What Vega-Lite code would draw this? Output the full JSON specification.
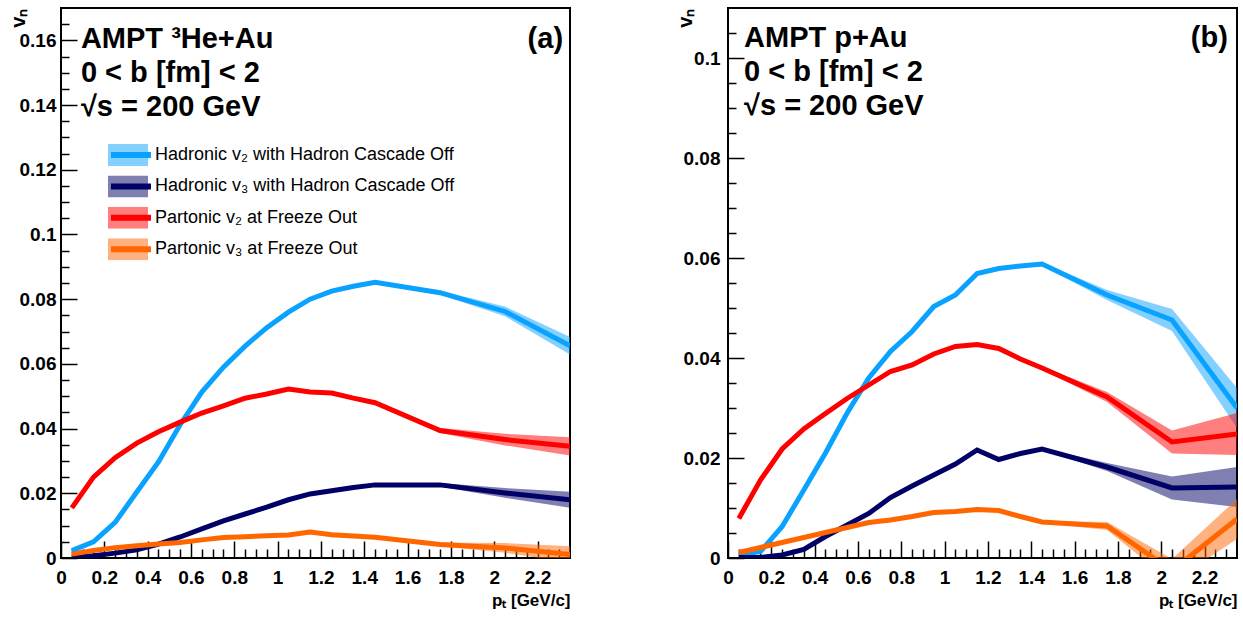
{
  "$schema": "https://vega.github.io/schema/vega-lite/v6.json",
  "background": "white",
  "padding": {"left": 7, "top": 7, "right": 5, "bottom": 5},
  "bounds": "flush",
  "spacing": 158,
  "config": {
    "font": "Liberation Sans",
    "view": {"stroke": "black", "strokeWidth": 2},
    "axis": {"grid": false, "domain": false, "tickColor": "black", "tickWidth": 1.5, "labelColor": "black", "titleColor": "black", "labelFont": "Liberation Sans", "titleFont": "Liberation Sans"},
    "text": {"font": "Liberation Sans", "color": "black"}
  },
  "datasets": {
    "heau": [
      {"s":"Hadronic v₂ with Hadron Cascade Off","x":0.05,"y":0.0023,"lo":0.0020,"hi":0.0026},
      {"s":"Hadronic v₂ with Hadron Cascade Off","x":0.15,"y":0.005,"lo":0.0047,"hi":0.0053},
      {"s":"Hadronic v₂ with Hadron Cascade Off","x":0.25,"y":0.011,"lo":0.0107,"hi":0.0113},
      {"s":"Hadronic v₂ with Hadron Cascade Off","x":0.35,"y":0.0204,"lo":0.0201,"hi":0.0207},
      {"s":"Hadronic v₂ with Hadron Cascade Off","x":0.45,"y":0.0297,"lo":0.0294,"hi":0.03},
      {"s":"Hadronic v₂ with Hadron Cascade Off","x":0.55,"y":0.0412,"lo":0.0409,"hi":0.0415},
      {"s":"Hadronic v₂ with Hadron Cascade Off","x":0.65,"y":0.0513,"lo":0.051,"hi":0.0516},
      {"s":"Hadronic v₂ with Hadron Cascade Off","x":0.75,"y":0.059,"lo":0.0587,"hi":0.0593},
      {"s":"Hadronic v₂ with Hadron Cascade Off","x":0.85,"y":0.0655,"lo":0.0652,"hi":0.0658},
      {"s":"Hadronic v₂ with Hadron Cascade Off","x":0.95,"y":0.0712,"lo":0.0709,"hi":0.0715},
      {"s":"Hadronic v₂ with Hadron Cascade Off","x":1.05,"y":0.076,"lo":0.0757,"hi":0.0763},
      {"s":"Hadronic v₂ with Hadron Cascade Off","x":1.15,"y":0.08,"lo":0.0797,"hi":0.0803},
      {"s":"Hadronic v₂ with Hadron Cascade Off","x":1.25,"y":0.0825,"lo":0.0822,"hi":0.0828},
      {"s":"Hadronic v₂ with Hadron Cascade Off","x":1.35,"y":0.084,"lo":0.0837,"hi":0.0843},
      {"s":"Hadronic v₂ with Hadron Cascade Off","x":1.45,"y":0.0852,"lo":0.0849,"hi":0.0855},
      {"s":"Hadronic v₂ with Hadron Cascade Off","x":1.75,"y":0.082,"lo":0.0814,"hi":0.0826},
      {"s":"Hadronic v₂ with Hadron Cascade Off","x":2.05,"y":0.0762,"lo":0.0747,"hi":0.0777},
      {"s":"Hadronic v₂ with Hadron Cascade Off","x":2.35,"y":0.0656,"lo":0.0629,"hi":0.0683},
      {"s":"Hadronic v₃ with Hadron Cascade Off","x":0.05,"y":0.0001,"lo":-0.0001,"hi":0.0003},
      {"s":"Hadronic v₃ with Hadron Cascade Off","x":0.15,"y":0.0007,"lo":0.0005,"hi":0.0009},
      {"s":"Hadronic v₃ with Hadron Cascade Off","x":0.25,"y":0.0015,"lo":0.0013,"hi":0.0017},
      {"s":"Hadronic v₃ with Hadron Cascade Off","x":0.35,"y":0.0025,"lo":0.0023,"hi":0.0027},
      {"s":"Hadronic v₃ with Hadron Cascade Off","x":0.45,"y":0.0043,"lo":0.0041,"hi":0.0045},
      {"s":"Hadronic v₃ with Hadron Cascade Off","x":0.55,"y":0.0065,"lo":0.0063,"hi":0.0067},
      {"s":"Hadronic v₃ with Hadron Cascade Off","x":0.65,"y":0.009,"lo":0.0088,"hi":0.0092},
      {"s":"Hadronic v₃ with Hadron Cascade Off","x":0.75,"y":0.0115,"lo":0.0113,"hi":0.0117},
      {"s":"Hadronic v₃ with Hadron Cascade Off","x":0.85,"y":0.0136,"lo":0.0134,"hi":0.0138},
      {"s":"Hadronic v₃ with Hadron Cascade Off","x":0.95,"y":0.0157,"lo":0.0155,"hi":0.0159},
      {"s":"Hadronic v₃ with Hadron Cascade Off","x":1.05,"y":0.018,"lo":0.0178,"hi":0.0182},
      {"s":"Hadronic v₃ with Hadron Cascade Off","x":1.15,"y":0.0198,"lo":0.0196,"hi":0.02},
      {"s":"Hadronic v₃ with Hadron Cascade Off","x":1.25,"y":0.0208,"lo":0.0206,"hi":0.021},
      {"s":"Hadronic v₃ with Hadron Cascade Off","x":1.35,"y":0.0218,"lo":0.0216,"hi":0.022},
      {"s":"Hadronic v₃ with Hadron Cascade Off","x":1.45,"y":0.0226,"lo":0.0224,"hi":0.0228},
      {"s":"Hadronic v₃ with Hadron Cascade Off","x":1.75,"y":0.0226,"lo":0.022,"hi":0.0232},
      {"s":"Hadronic v₃ with Hadron Cascade Off","x":2.05,"y":0.0201,"lo":0.0186,"hi":0.0216},
      {"s":"Hadronic v₃ with Hadron Cascade Off","x":2.35,"y":0.018,"lo":0.0155,"hi":0.0205},
      {"s":"Partonic v₂ at Freeze Out","x":0.05,"y":0.0155,"lo":0.0152,"hi":0.0158},
      {"s":"Partonic v₂ at Freeze Out","x":0.15,"y":0.025,"lo":0.0247,"hi":0.0253},
      {"s":"Partonic v₂ at Freeze Out","x":0.25,"y":0.031,"lo":0.0307,"hi":0.0313},
      {"s":"Partonic v₂ at Freeze Out","x":0.35,"y":0.0355,"lo":0.0352,"hi":0.0358},
      {"s":"Partonic v₂ at Freeze Out","x":0.45,"y":0.039,"lo":0.0387,"hi":0.0393},
      {"s":"Partonic v₂ at Freeze Out","x":0.55,"y":0.042,"lo":0.0417,"hi":0.0423},
      {"s":"Partonic v₂ at Freeze Out","x":0.65,"y":0.0448,"lo":0.0445,"hi":0.0451},
      {"s":"Partonic v₂ at Freeze Out","x":0.75,"y":0.047,"lo":0.0467,"hi":0.0473},
      {"s":"Partonic v₂ at Freeze Out","x":0.85,"y":0.0494,"lo":0.0491,"hi":0.0497},
      {"s":"Partonic v₂ at Freeze Out","x":0.95,"y":0.0507,"lo":0.0504,"hi":0.051},
      {"s":"Partonic v₂ at Freeze Out","x":1.05,"y":0.0522,"lo":0.0519,"hi":0.0525},
      {"s":"Partonic v₂ at Freeze Out","x":1.15,"y":0.0513,"lo":0.051,"hi":0.0516},
      {"s":"Partonic v₂ at Freeze Out","x":1.25,"y":0.051,"lo":0.0507,"hi":0.0513},
      {"s":"Partonic v₂ at Freeze Out","x":1.35,"y":0.0494,"lo":0.0491,"hi":0.0497},
      {"s":"Partonic v₂ at Freeze Out","x":1.45,"y":0.048,"lo":0.0477,"hi":0.0483},
      {"s":"Partonic v₂ at Freeze Out","x":1.75,"y":0.0394,"lo":0.0386,"hi":0.0402},
      {"s":"Partonic v₂ at Freeze Out","x":2.05,"y":0.0366,"lo":0.0348,"hi":0.0384},
      {"s":"Partonic v₂ at Freeze Out","x":2.35,"y":0.0345,"lo":0.0317,"hi":0.0373},
      {"s":"Partonic v₃ at Freeze Out","x":0.05,"y":0.0012,"lo":0.001,"hi":0.0014},
      {"s":"Partonic v₃ at Freeze Out","x":0.15,"y":0.0023,"lo":0.0021,"hi":0.0025},
      {"s":"Partonic v₃ at Freeze Out","x":0.25,"y":0.0032,"lo":0.003,"hi":0.0034},
      {"s":"Partonic v₃ at Freeze Out","x":0.35,"y":0.0038,"lo":0.0036,"hi":0.004},
      {"s":"Partonic v₃ at Freeze Out","x":0.45,"y":0.0043,"lo":0.0041,"hi":0.0045},
      {"s":"Partonic v₃ at Freeze Out","x":0.55,"y":0.0048,"lo":0.0046,"hi":0.005},
      {"s":"Partonic v₃ at Freeze Out","x":0.65,"y":0.0056,"lo":0.0054,"hi":0.0058},
      {"s":"Partonic v₃ at Freeze Out","x":0.75,"y":0.0063,"lo":0.0061,"hi":0.0065},
      {"s":"Partonic v₃ at Freeze Out","x":0.85,"y":0.0066,"lo":0.0064,"hi":0.0068},
      {"s":"Partonic v₃ at Freeze Out","x":0.95,"y":0.0069,"lo":0.0067,"hi":0.0071},
      {"s":"Partonic v₃ at Freeze Out","x":1.05,"y":0.0071,"lo":0.0069,"hi":0.0073},
      {"s":"Partonic v₃ at Freeze Out","x":1.15,"y":0.008,"lo":0.0078,"hi":0.0082},
      {"s":"Partonic v₃ at Freeze Out","x":1.25,"y":0.0072,"lo":0.007,"hi":0.0074},
      {"s":"Partonic v₃ at Freeze Out","x":1.35,"y":0.0068,"lo":0.0066,"hi":0.007},
      {"s":"Partonic v₃ at Freeze Out","x":1.45,"y":0.0064,"lo":0.0062,"hi":0.0066},
      {"s":"Partonic v₃ at Freeze Out","x":1.75,"y":0.0042,"lo":0.0036,"hi":0.0048},
      {"s":"Partonic v₃ at Freeze Out","x":2.05,"y":0.0031,"lo":0.0016,"hi":0.0046},
      {"s":"Partonic v₃ at Freeze Out","x":2.35,"y":0.0011,"lo":-0.0014,"hi":0.0036}
    ],
    "pau": [
      {"s":"Hadronic v₂ with Hadron Cascade Off","x":0.05,"y":0.0006,"lo":0.0003,"hi":0.0009},
      {"s":"Hadronic v₂ with Hadron Cascade Off","x":0.15,"y":0.0013,"lo":0.001,"hi":0.0016},
      {"s":"Hadronic v₂ with Hadron Cascade Off","x":0.25,"y":0.0063,"lo":0.006,"hi":0.0066},
      {"s":"Hadronic v₂ with Hadron Cascade Off","x":0.35,"y":0.0136,"lo":0.0133,"hi":0.0139},
      {"s":"Hadronic v₂ with Hadron Cascade Off","x":0.45,"y":0.021,"lo":0.0207,"hi":0.0213},
      {"s":"Hadronic v₂ with Hadron Cascade Off","x":0.55,"y":0.029,"lo":0.0287,"hi":0.0293},
      {"s":"Hadronic v₂ with Hadron Cascade Off","x":0.65,"y":0.036,"lo":0.0357,"hi":0.0363},
      {"s":"Hadronic v₂ with Hadron Cascade Off","x":0.75,"y":0.0413,"lo":0.041,"hi":0.0416},
      {"s":"Hadronic v₂ with Hadron Cascade Off","x":0.85,"y":0.0453,"lo":0.045,"hi":0.0456},
      {"s":"Hadronic v₂ with Hadron Cascade Off","x":0.95,"y":0.0503,"lo":0.05,"hi":0.0506},
      {"s":"Hadronic v₂ with Hadron Cascade Off","x":1.05,"y":0.0526,"lo":0.0523,"hi":0.0529},
      {"s":"Hadronic v₂ with Hadron Cascade Off","x":1.15,"y":0.0569,"lo":0.0566,"hi":0.0572},
      {"s":"Hadronic v₂ with Hadron Cascade Off","x":1.25,"y":0.0579,"lo":0.0576,"hi":0.0582},
      {"s":"Hadronic v₂ with Hadron Cascade Off","x":1.35,"y":0.0584,"lo":0.0581,"hi":0.0587},
      {"s":"Hadronic v₂ with Hadron Cascade Off","x":1.45,"y":0.0588,"lo":0.0585,"hi":0.0591},
      {"s":"Hadronic v₂ with Hadron Cascade Off","x":1.75,"y":0.0526,"lo":0.0516,"hi":0.0536},
      {"s":"Hadronic v₂ with Hadron Cascade Off","x":2.05,"y":0.0476,"lo":0.0454,"hi":0.0498},
      {"s":"Hadronic v₂ with Hadron Cascade Off","x":2.35,"y":0.03,"lo":0.026,"hi":0.034},
      {"s":"Hadronic v₃ with Hadron Cascade Off","x":0.05,"y":0.0001,"lo":-0.0001,"hi":0.0003},
      {"s":"Hadronic v₃ with Hadron Cascade Off","x":0.15,"y":0.0001,"lo":-0.0001,"hi":0.0003},
      {"s":"Hadronic v₃ with Hadron Cascade Off","x":0.25,"y":0.0006,"lo":0.0004,"hi":0.0008},
      {"s":"Hadronic v₃ with Hadron Cascade Off","x":0.35,"y":0.0017,"lo":0.0015,"hi":0.0019},
      {"s":"Hadronic v₃ with Hadron Cascade Off","x":0.45,"y":0.0043,"lo":0.0041,"hi":0.0045},
      {"s":"Hadronic v₃ with Hadron Cascade Off","x":0.55,"y":0.0066,"lo":0.0064,"hi":0.0068},
      {"s":"Hadronic v₃ with Hadron Cascade Off","x":0.65,"y":0.0089,"lo":0.0087,"hi":0.0091},
      {"s":"Hadronic v₃ with Hadron Cascade Off","x":0.75,"y":0.0121,"lo":0.0119,"hi":0.0123},
      {"s":"Hadronic v₃ with Hadron Cascade Off","x":0.85,"y":0.0144,"lo":0.0142,"hi":0.0146},
      {"s":"Hadronic v₃ with Hadron Cascade Off","x":0.95,"y":0.0166,"lo":0.0164,"hi":0.0168},
      {"s":"Hadronic v₃ with Hadron Cascade Off","x":1.05,"y":0.0188,"lo":0.0186,"hi":0.019},
      {"s":"Hadronic v₃ with Hadron Cascade Off","x":1.15,"y":0.0216,"lo":0.0214,"hi":0.0218},
      {"s":"Hadronic v₃ with Hadron Cascade Off","x":1.25,"y":0.0197,"lo":0.0195,"hi":0.0199},
      {"s":"Hadronic v₃ with Hadron Cascade Off","x":1.35,"y":0.0209,"lo":0.0207,"hi":0.0211},
      {"s":"Hadronic v₃ with Hadron Cascade Off","x":1.45,"y":0.0218,"lo":0.0216,"hi":0.022},
      {"s":"Hadronic v₃ with Hadron Cascade Off","x":1.75,"y":0.0182,"lo":0.0174,"hi":0.019},
      {"s":"Hadronic v₃ with Hadron Cascade Off","x":2.05,"y":0.014,"lo":0.0117,"hi":0.0163},
      {"s":"Hadronic v₃ with Hadron Cascade Off","x":2.35,"y":0.0142,"lo":0.0102,"hi":0.0182},
      {"s":"Partonic v₂ at Freeze Out","x":0.05,"y":0.0079,"lo":0.0076,"hi":0.0082},
      {"s":"Partonic v₂ at Freeze Out","x":0.15,"y":0.0156,"lo":0.0153,"hi":0.0159},
      {"s":"Partonic v₂ at Freeze Out","x":0.25,"y":0.0218,"lo":0.0215,"hi":0.0221},
      {"s":"Partonic v₂ at Freeze Out","x":0.35,"y":0.0258,"lo":0.0255,"hi":0.0261},
      {"s":"Partonic v₂ at Freeze Out","x":0.45,"y":0.0289,"lo":0.0286,"hi":0.0292},
      {"s":"Partonic v₂ at Freeze Out","x":0.55,"y":0.0319,"lo":0.0316,"hi":0.0322},
      {"s":"Partonic v₂ at Freeze Out","x":0.65,"y":0.0346,"lo":0.0343,"hi":0.0349},
      {"s":"Partonic v₂ at Freeze Out","x":0.75,"y":0.0373,"lo":0.037,"hi":0.0376},
      {"s":"Partonic v₂ at Freeze Out","x":0.85,"y":0.0386,"lo":0.0383,"hi":0.0389},
      {"s":"Partonic v₂ at Freeze Out","x":0.95,"y":0.0408,"lo":0.0405,"hi":0.0411},
      {"s":"Partonic v₂ at Freeze Out","x":1.05,"y":0.0423,"lo":0.042,"hi":0.0426},
      {"s":"Partonic v₂ at Freeze Out","x":1.15,"y":0.0427,"lo":0.0424,"hi":0.043},
      {"s":"Partonic v₂ at Freeze Out","x":1.25,"y":0.0419,"lo":0.0416,"hi":0.0422},
      {"s":"Partonic v₂ at Freeze Out","x":1.35,"y":0.0398,"lo":0.0395,"hi":0.0401},
      {"s":"Partonic v₂ at Freeze Out","x":1.45,"y":0.038,"lo":0.0377,"hi":0.0383},
      {"s":"Partonic v₂ at Freeze Out","x":1.75,"y":0.0322,"lo":0.0312,"hi":0.0332},
      {"s":"Partonic v₂ at Freeze Out","x":2.05,"y":0.0232,"lo":0.0209,"hi":0.0255},
      {"s":"Partonic v₂ at Freeze Out","x":2.35,"y":0.0248,"lo":0.0206,"hi":0.029},
      {"s":"Partonic v₃ at Freeze Out","x":0.05,"y":0.0011,"lo":0.0009,"hi":0.0013},
      {"s":"Partonic v₃ at Freeze Out","x":0.15,"y":0.0021,"lo":0.0019,"hi":0.0023},
      {"s":"Partonic v₃ at Freeze Out","x":0.25,"y":0.0031,"lo":0.0029,"hi":0.0033},
      {"s":"Partonic v₃ at Freeze Out","x":0.35,"y":0.0041,"lo":0.0039,"hi":0.0043},
      {"s":"Partonic v₃ at Freeze Out","x":0.45,"y":0.0051,"lo":0.0049,"hi":0.0053},
      {"s":"Partonic v₃ at Freeze Out","x":0.55,"y":0.0061,"lo":0.0059,"hi":0.0063},
      {"s":"Partonic v₃ at Freeze Out","x":0.65,"y":0.0071,"lo":0.0069,"hi":0.0073},
      {"s":"Partonic v₃ at Freeze Out","x":0.75,"y":0.0076,"lo":0.0074,"hi":0.0078},
      {"s":"Partonic v₃ at Freeze Out","x":0.85,"y":0.0083,"lo":0.0081,"hi":0.0085},
      {"s":"Partonic v₃ at Freeze Out","x":0.95,"y":0.0091,"lo":0.0089,"hi":0.0093},
      {"s":"Partonic v₃ at Freeze Out","x":1.05,"y":0.0093,"lo":0.0091,"hi":0.0095},
      {"s":"Partonic v₃ at Freeze Out","x":1.15,"y":0.0097,"lo":0.0095,"hi":0.0099},
      {"s":"Partonic v₃ at Freeze Out","x":1.25,"y":0.0095,"lo":0.0093,"hi":0.0097},
      {"s":"Partonic v₃ at Freeze Out","x":1.35,"y":0.0083,"lo":0.0081,"hi":0.0085},
      {"s":"Partonic v₃ at Freeze Out","x":1.45,"y":0.0072,"lo":0.007,"hi":0.0074},
      {"s":"Partonic v₃ at Freeze Out","x":1.75,"y":0.0064,"lo":0.0056,"hi":0.0072},
      {"s":"Partonic v₃ at Freeze Out","x":2.05,"y":-0.0025,"lo":-0.0048,"hi":-0.0002},
      {"s":"Partonic v₃ at Freeze Out","x":2.35,"y":0.0078,"lo":0.0038,"hi":0.0118}
    ]
  },
  "resolve": {"scale": {"x": "independent", "y": "independent", "fill": "independent", "stroke": "independent"}, "legend": {"fill": "independent", "stroke": "independent"}},
  "hconcat": [
    {
      "width": 509,
      "height": 550,
      "data": {"name": "heau"},
      "resolve": {"axis": {"x": "independent", "y": "independent"}},
      "layer": [
        {
          "mark": {"type": "area", "clip": true, "fillOpacity": 0.5},
          "encoding": {
            "x": {"field": "x", "type": "quantitative", "scale": {"domain": [0, 2.35], "nice": false, "zero": false},
              "axis": {"orient": "bottom", "offset": -17, "tickSize": 17, "values": [0,0.2,0.4,0.6,0.8,1,1.2,1.4,1.6,1.8,2,2.2], "format": "~g", "labelPadding": 10, "labelFontSize": 19, "labelFontWeight": "bold", "labelFlush": false, "labelOverlap": false, "title": "pₜ [GeV/c]", "titleFontSize": 17, "titleFontWeight": "bold", "titleAnchor": "end", "titleAlign": "right", "titleBaseline": "alphabetic", "titleY": 64}},
            "y": {"field": "lo", "type": "quantitative", "scale": {"domain": [0, 0.17], "nice": false, "zero": false},
              "axis": {"orient": "left", "offset": -16, "tickSize": 16, "values": [0,0.02,0.04,0.06,0.08,0.1,0.12,0.14,0.16], "format": "~g", "labelPadding": 5, "labelFontSize": 19, "labelFontWeight": "bold", "labelFlush": false, "labelOverlap": false, "title": "vₙ", "titleFontSize": 20, "titleFontWeight": "bold", "titleAngle": 270, "titleAlign": "right", "titleBaseline": "middle", "titleX": -59, "titleY": 0}},
            "y2": {"field": "hi"},
            "fill": {"field": "s", "type": "nominal", "scale": {"range": ["#09A2FF", "#000066", "#FF0000", "#FF6600"]},
              "legend": {"orient": "none", "legendX": 47, "legendY": 136, "title": null, "padding": 0, "symbolType": "M-1,-0.55H1V0.55H-1Z", "symbolSize": 1600, "symbolOpacity": 0.5, "symbolStrokeWidth": 0, "labelExpr": "''", "labelFontSize": 18, "labelOffset": 1, "labelLimit": 0, "rowPadding": 9.4, "clipHeight": 22}}
          }
        },
        {
          "mark": {"type": "line", "clip": true, "strokeWidth": 5},
          "encoding": {
            "x": {"field": "x", "type": "quantitative",
              "axis": {"orient": "bottom", "offset": -9, "tickSize": 9, "values": [0.05,0.1,0.15,0.25,0.3,0.35,0.45,0.5,0.55,0.65,0.7,0.75,0.85,0.9,0.95,1.05,1.1,1.15,1.25,1.3,1.35,1.45,1.5,1.55,1.65,1.7,1.75,1.85,1.9,1.95,2.05,2.1,2.15,2.25,2.3], "labels": false, "title": null}},
            "y": {"field": "y", "type": "quantitative",
              "axis": {"orient": "left", "offset": -8, "tickSize": 8, "values": [0.005,0.01,0.015,0.025,0.03,0.035,0.045,0.05,0.055,0.065,0.07,0.075,0.085,0.09,0.095,0.105,0.11,0.115,0.125,0.13,0.135,0.145,0.15,0.155,0.165], "labels": false, "title": null}},
            "stroke": {"field": "s", "type": "nominal", "scale": {"domain": ["Hadronic v₂ with Hadron Cascade Off", "Hadronic v₃ with Hadron Cascade Off", "Partonic v₂ at Freeze Out", "Partonic v₃ at Freeze Out"], "range": ["#09A2FF", "#000066", "#FF0000", "#FF6600"]},
              "legend": {"orient": "none", "legendX": 47, "legendY": 136, "title": null, "padding": 0, "symbolType": "M-1,0H1", "symbolSize": 1600, "symbolStrokeWidth": 6, "labelFontSize": 18, "labelColor": "black", "labelOffset": 1, "labelLimit": 0, "rowPadding": 9.4, "clipHeight": 22}}
          }
        },
        {
          "data": {"values": [{}]},
          "mark": {"type": "text", "text": ["AMPT  ³He+Au", "0 < b [fm] < 2", "√s = 200 GeV"], "align": "left", "baseline": "alphabetic", "fontSize": 29, "fontWeight": "bold", "lineHeight": 34},
          "encoding": {"x": {"datum": 0.092, "type": "quantitative", "axis": null}, "y": {"datum": 0.1575, "type": "quantitative", "axis": null}}
        },
        {
          "data": {"values": [{}]},
          "mark": {"type": "text", "text": "(a)", "align": "right", "baseline": "alphabetic", "fontSize": 29, "fontWeight": "bold"},
          "encoding": {"x": {"datum": 2.318, "type": "quantitative", "axis": null}, "y": {"datum": 0.1575, "type": "quantitative", "axis": null}}
        }
      ]
    },
    {
      "width": 509,
      "height": 550,
      "data": {"name": "pau"},
      "resolve": {"axis": {"x": "independent", "y": "independent"}},
      "layer": [
        {
          "mark": {"type": "area", "clip": true, "fillOpacity": 0.5},
          "encoding": {
            "x": {"field": "x", "type": "quantitative", "scale": {"domain": [0, 2.35], "nice": false, "zero": false},
              "axis": {"orient": "bottom", "offset": -17, "tickSize": 17, "values": [0,0.2,0.4,0.6,0.8,1,1.2,1.4,1.6,1.8,2,2.2], "format": "~g", "labelPadding": 10, "labelFontSize": 19, "labelFontWeight": "bold", "labelFlush": false, "labelOverlap": false, "title": "pₜ [GeV/c]", "titleFontSize": 17, "titleFontWeight": "bold", "titleAnchor": "end", "titleAlign": "right", "titleBaseline": "alphabetic", "titleY": 64}},
            "y": {"field": "lo", "type": "quantitative", "scale": {"domain": [0, 0.11], "nice": false, "zero": false},
              "axis": {"orient": "left", "offset": -16, "tickSize": 16, "values": [0,0.02,0.04,0.06,0.08,0.1], "format": "~g", "labelPadding": 8, "labelFontSize": 19, "labelFontWeight": "bold", "labelFlush": false, "labelOverlap": false, "title": "vₙ", "titleFontSize": 20, "titleFontWeight": "bold", "titleAngle": 270, "titleAlign": "right", "titleBaseline": "middle", "titleX": -59, "titleY": 0}},
            "y2": {"field": "hi"},
            "fill": {"field": "s", "type": "nominal", "scale": {"range": ["#09A2FF", "#000066", "#FF0000", "#FF6600"]}, "legend": null}
          }
        },
        {
          "mark": {"type": "line", "clip": true, "strokeWidth": 5},
          "encoding": {
            "x": {"field": "x", "type": "quantitative",
              "axis": {"orient": "bottom", "offset": -9, "tickSize": 9, "values": [0.05,0.1,0.15,0.25,0.3,0.35,0.45,0.5,0.55,0.65,0.7,0.75,0.85,0.9,0.95,1.05,1.1,1.15,1.25,1.3,1.35,1.45,1.5,1.55,1.65,1.7,1.75,1.85,1.9,1.95,2.05,2.1,2.15,2.25,2.3], "labels": false, "title": null}},
            "y": {"field": "y", "type": "quantitative",
              "axis": {"orient": "left", "offset": -8, "tickSize": 8, "values": [0.005,0.01,0.015,0.025,0.03,0.035,0.045,0.05,0.055,0.065,0.07,0.075,0.085,0.09,0.095,0.105], "labels": false, "title": null}},
            "stroke": {"field": "s", "type": "nominal", "scale": {"domain": ["Hadronic v₂ with Hadron Cascade Off", "Hadronic v₃ with Hadron Cascade Off", "Partonic v₂ at Freeze Out", "Partonic v₃ at Freeze Out"], "range": ["#09A2FF", "#000066", "#FF0000", "#FF6600"]}, "legend": null}
          }
        },
        {
          "data": {"values": [{}]},
          "mark": {"type": "text", "text": ["AMPT p+Au", "0 < b [fm] < 2", "√s = 200 GeV"], "align": "left", "baseline": "alphabetic", "fontSize": 29, "fontWeight": "bold", "lineHeight": 34},
          "encoding": {"x": {"datum": 0.074, "type": "quantitative", "axis": null}, "y": {"datum": 0.1023, "type": "quantitative", "axis": null}}
        },
        {
          "data": {"values": [{}]},
          "mark": {"type": "text", "text": "(b)", "align": "right", "baseline": "alphabetic", "fontSize": 29, "fontWeight": "bold"},
          "encoding": {"x": {"datum": 2.308, "type": "quantitative", "axis": null}, "y": {"datum": 0.1023, "type": "quantitative", "axis": null}}
        }
      ]
    }
  ]
}
